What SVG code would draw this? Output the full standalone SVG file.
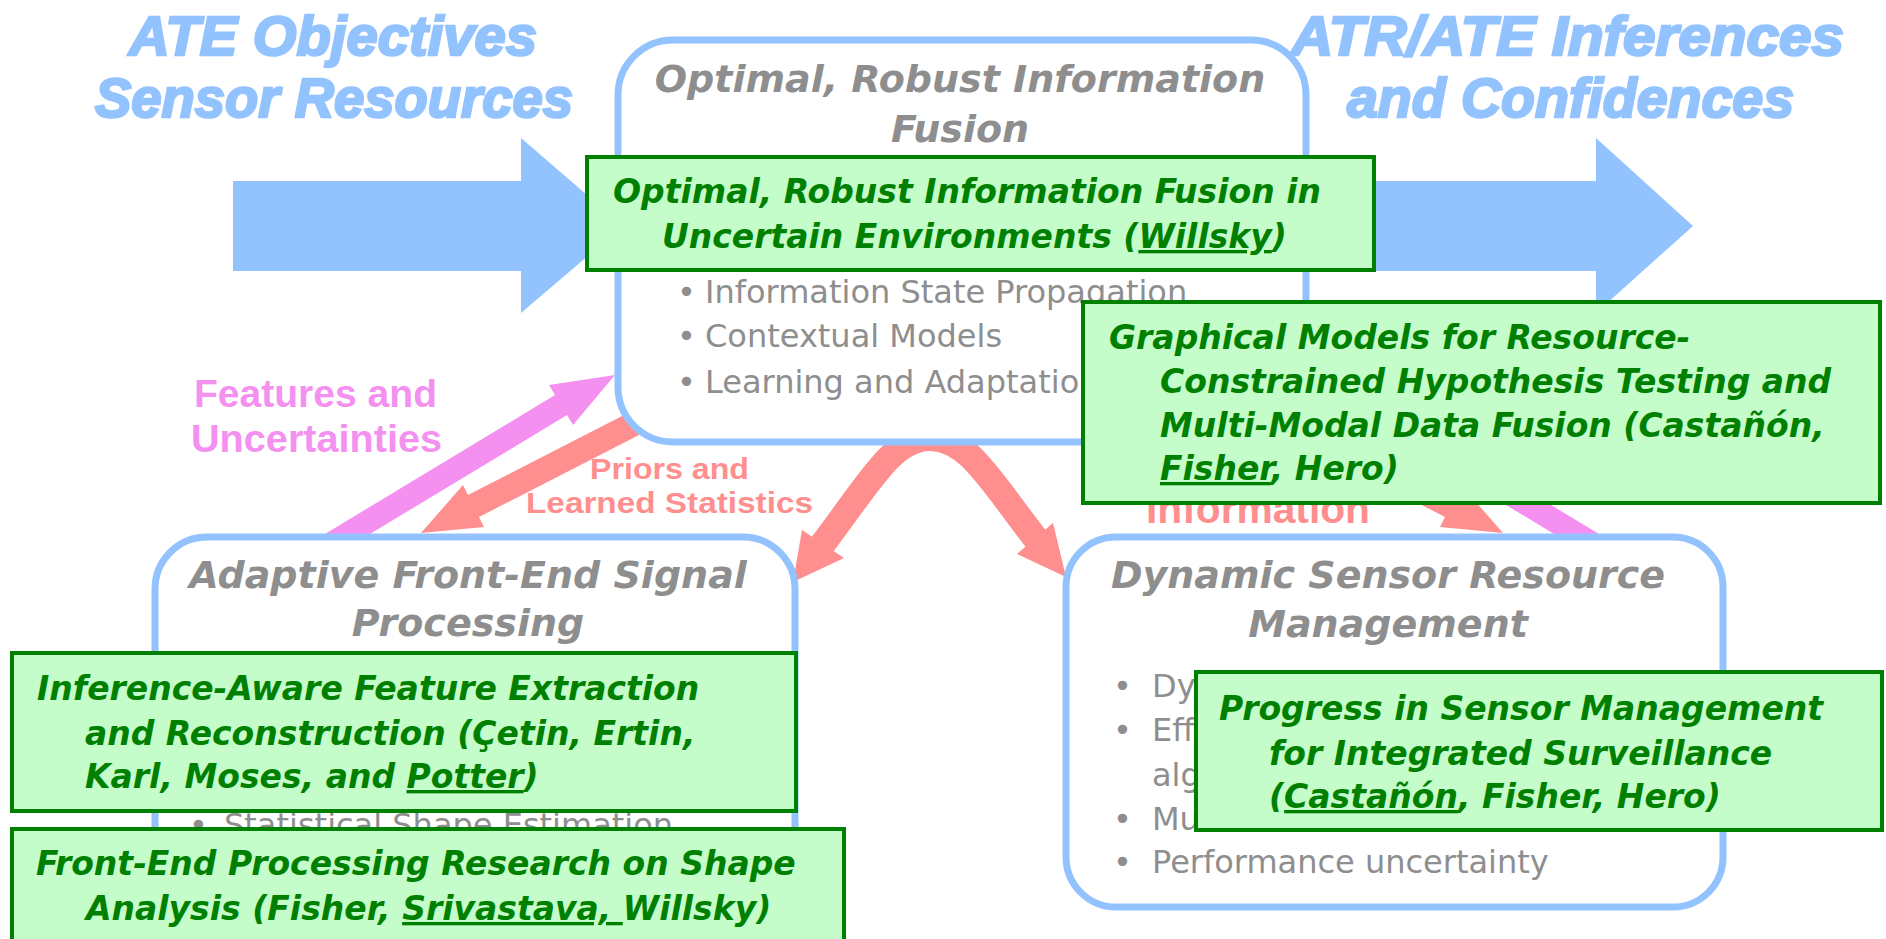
<svg xmlns="http://www.w3.org/2000/svg" width="1886" height="939" viewBox="0 0 1886 939">
<style>
.hdr{font-family:"Liberation Sans",Arial,sans-serif;font-weight:bold;font-style:italic;font-size:56px;fill:#93C3FF;stroke:#93C3FF;stroke-width:2.5;}
.rbox{fill:#FFFFFF;stroke:#93C3FF;stroke-width:7;}
.ttl{font-family:"DejaVu Sans",sans-serif;font-weight:bold;font-style:italic;font-size:38px;fill:#8E8E8E;text-anchor:middle;}
.bul{font-family:"DejaVu Sans",sans-serif;font-size:32px;fill:#8E8E8E;}
.gbox{fill:#C4FCCA;stroke:#008000;stroke-width:4;}
.gtx{font-family:"DejaVu Sans",sans-serif;font-weight:bold;font-style:italic;font-size:33px;fill:#008000;}
.u{text-decoration:underline;}
.pinkl{font-family:"Liberation Sans",Arial,sans-serif;font-weight:bold;font-size:38px;fill:#F490F0;}
.salt{font-family:"Liberation Sans",Arial,sans-serif;font-weight:bold;font-size:30px;fill:#FF8E8E;}
.blue{fill:#93C3FF;}
.pink{fill:#F490F0;}
.salmon{fill:#FF8E8E;}
</style>

<g id="headers">
  <text class="hdr" x="129" y="55" textLength="408" lengthAdjust="spacingAndGlyphs">ATE Objectives</text>
  <text class="hdr" x="95" y="117" textLength="478" lengthAdjust="spacingAndGlyphs">Sensor Resources</text>
  <text class="hdr" x="1291" y="55" textLength="553" lengthAdjust="spacingAndGlyphs">ATR/ATE Inferences</text>
  <text class="hdr" x="1347" y="117" textLength="447" lengthAdjust="spacingAndGlyphs">and Confidences</text>
</g>

<g id="connectors">
  <polygon class="blue" points="233,181 521,181 521,138 623,226 521,313 521,271 233,271"/>
  <polygon class="blue" points="1310,181 1596,181 1596,138 1693,226 1596,313 1596,271 1310,271"/>
  <polygon class="pink" points="320,537 365,537 567,415 573,425 615,375 549,385 555,395"/>
  <polygon class="salmon" points="628,413 639,435 479,517 484,527 421,533 463,485 468,495"/>
  <polygon class="pink" points="1604,537 1559,537 1357,415 1351,425 1309,375 1375,385 1369,395"/>
  <polygon class="salmon" points="1296,413 1285,435 1445,517 1440,527 1503,533 1461,485 1456,495"/>
  <path d="M822,545 C870,482 892,438 930,438 C968,438 990,480 1036,539" fill="none" stroke="#FF8E8E" stroke-width="26"/>
  <polygon class="salmon" points="802,530 793,582 844,558"/>
  <polygon class="salmon" points="1053,523 1066,577 1017,554"/>
</g>

<g id="node-fusion">
  <rect class="rbox" x="618" y="40" width="688" height="402" rx="55" ry="55"/>
  <text class="ttl" x="960" y="92">Optimal, Robust Information</text>
  <text class="ttl" x="960" y="142">Fusion</text>
  <text class="bul" y="303"><tspan x="677">•</tspan><tspan x="705">Information State Propagation</tspan></text>
  <text class="bul" y="347"><tspan x="677">•</tspan><tspan x="705">Contextual Models</tspan></text>
  <text class="bul" y="393"><tspan x="677">•</tspan><tspan x="705">Learning and Adaptation</tspan></text>
</g>

<g id="node-frontend">
  <rect class="rbox" x="155" y="537" width="640" height="398" rx="52" ry="52"/>
  <text class="ttl" x="468" y="588">Adaptive Front-End Signal</text>
  <text class="ttl" x="468" y="636">Processing</text>
  <text class="bul" y="836"><tspan x="189">•</tspan><tspan x="224">Statistical Shape Estimation</tspan></text>
</g>

<g id="node-sensor">
  <rect class="rbox" x="1066" y="537" width="657" height="370" rx="50" ry="50"/>
  <text class="ttl" x="1388" y="588">Dynamic Sensor Resource</text>
  <text class="ttl" x="1388" y="637">Management</text>
  <text class="bul" y="697"><tspan x="1113">•</tspan><tspan x="1152">Dy</tspan></text>
  <text class="bul" y="741"><tspan x="1113">•</tspan><tspan x="1152">Eff</tspan></text>
  <text class="bul" x="1152" y="786">alg</text>
  <text class="bul" y="830"><tspan x="1113">•</tspan><tspan x="1152">Mu</tspan></text>
  <text class="bul" y="873"><tspan x="1113">•</tspan><tspan x="1152">Performance uncertainty</tspan></text>
</g>

<g id="labels">
  <text class="pinkl" x="194" y="407" textLength="243" lengthAdjust="spacingAndGlyphs">Features and</text>
  <text class="pinkl" x="191" y="452" textLength="251" lengthAdjust="spacingAndGlyphs">Uncertainties</text>
  <text class="salt" x="590" y="479" textLength="159" lengthAdjust="spacingAndGlyphs">Priors and</text>
  <text class="salt" x="526" y="513" textLength="287" lengthAdjust="spacingAndGlyphs">Learned Statistics</text>
  <text class="salt" x="1146" y="523" textLength="224" lengthAdjust="spacingAndGlyphs" style="font-size:40px">Information</text>
</g>

<g id="note-fusion">
  <rect class="gbox" x="587" y="157" width="787" height="113"/>
  <text class="gtx" x="613" y="203">Optimal, Robust Information Fusion in</text>
  <text class="gtx" x="662" y="248">Uncertain Environments (<tspan class="u">Willsky</tspan>)</text>
</g>

<g id="note-graphical">
  <rect class="gbox" x="1083" y="302" width="797" height="201"/>
  <text class="gtx" x="1109" y="349">Graphical Models for Resource-</text>
  <text class="gtx" x="1160" y="393">Constrained Hypothesis Testing and</text>
  <text class="gtx" x="1160" y="437">Multi-Modal Data Fusion (Castañón,</text>
  <text class="gtx" x="1160" y="480"><tspan class="u">Fisher</tspan>, Hero)</text>
</g>

<g id="note-inference">
  <rect class="gbox" x="12" y="653" width="784" height="158"/>
  <text class="gtx" x="37" y="700">Inference-Aware Feature Extraction</text>
  <text class="gtx" x="85" y="745">and Reconstruction (Çetin, Ertin,</text>
  <text class="gtx" x="85" y="788">Karl, Moses, and <tspan class="u">Potter</tspan>)</text>
</g>

<g id="note-shape">
  <rect class="gbox" x="12" y="829" width="832" height="125"/>
  <text class="gtx" x="36" y="875">Front-End Processing Research on Shape</text>
  <text class="gtx" x="86" y="920">Analysis (Fisher, <tspan class="u">Srivastava, </tspan>Willsky)</text>
</g>

<g id="note-progress">
  <rect class="gbox" x="1196" y="672" width="686" height="158"/>
  <text class="gtx" x="1219" y="720">Progress in Sensor Management</text>
  <text class="gtx" x="1269" y="765">for Integrated Surveillance</text>
  <text class="gtx" x="1269" y="808">(<tspan class="u">Castañón</tspan>, Fisher, Hero)</text>
</g>
</svg>
